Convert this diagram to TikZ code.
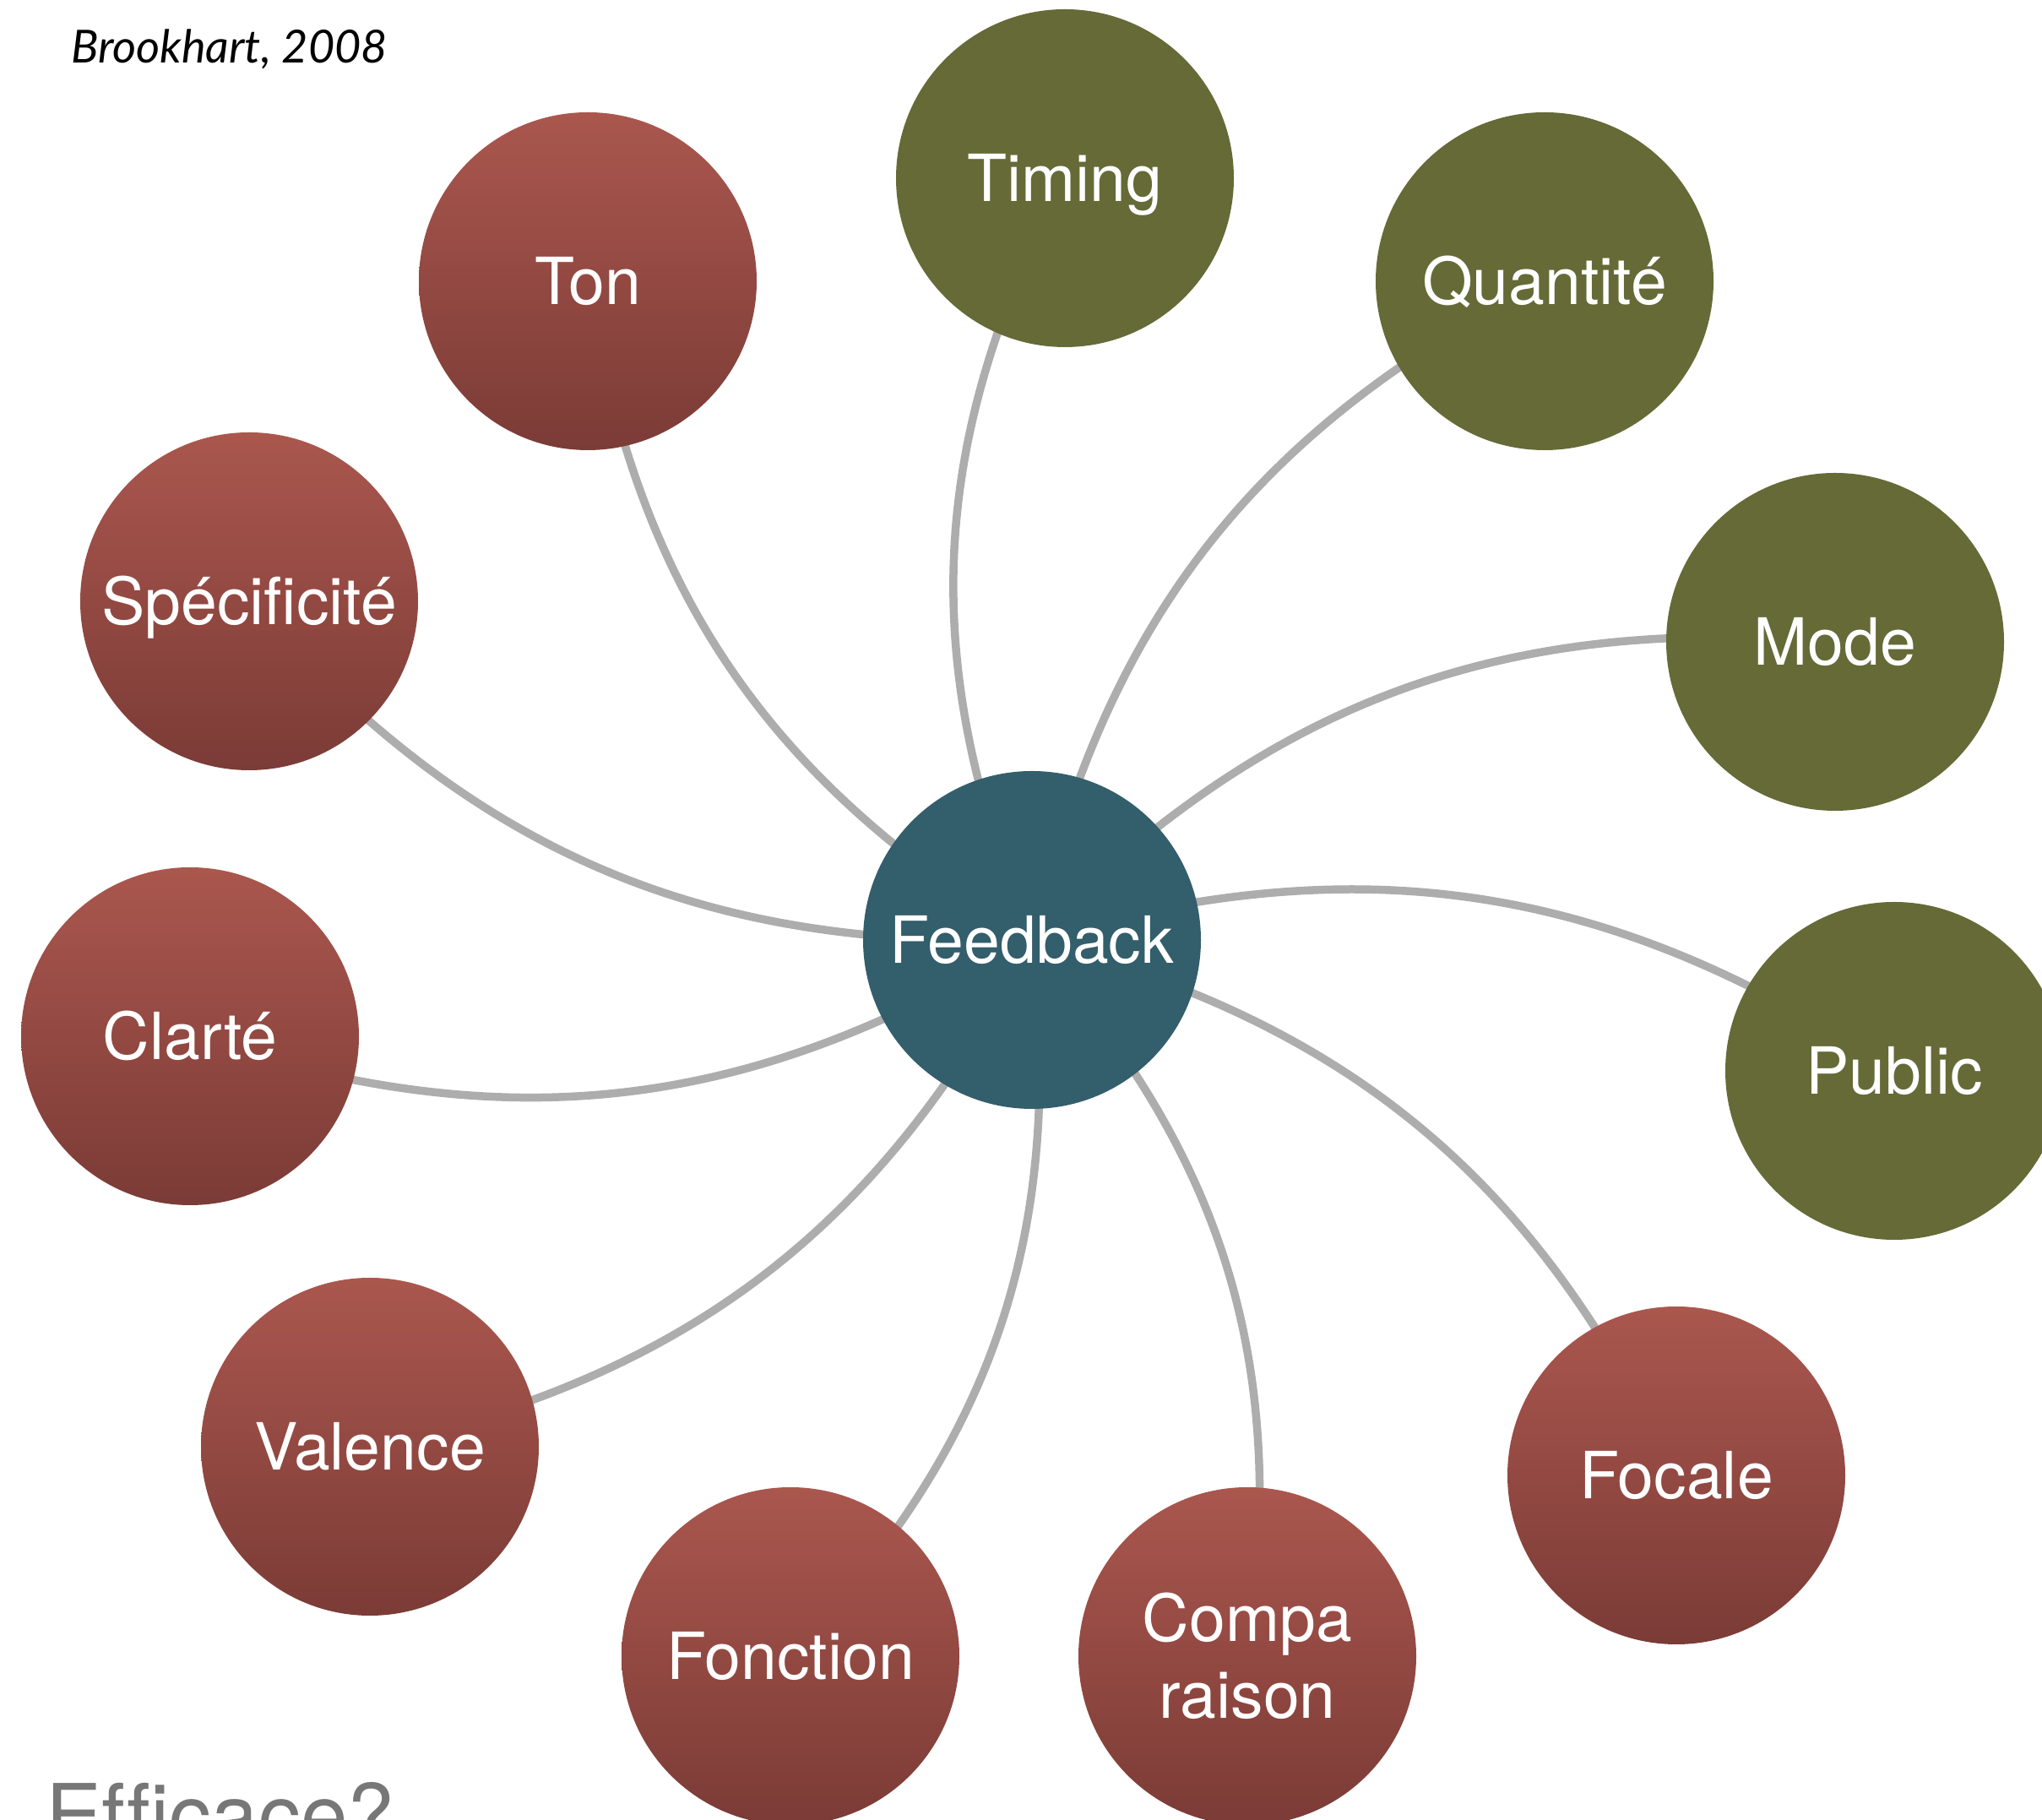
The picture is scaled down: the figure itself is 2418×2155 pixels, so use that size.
\documentclass[tikz,border=0pt]{standalone}
\usepackage{fontspec}
\usetikzlibrary{backgrounds}
\newfontfamily\heros{TeX Gyre Heros}
\newfontfamily\herosnolig[Ligatures=NoCommon]{TeX Gyre Heros}
\newfontfamily\latofont{Lato}
\definecolor{redtop}{HTML}{AA574E}
\definecolor{redbot}{HTML}{7B3B36}
\definecolor{olive}{HTML}{656A37}
\definecolor{petrol}{HTML}{335E6B}
\definecolor{linkgray}{HTML}{ADADAD}
\definecolor{notegray}{HTML}{777777}
\tikzset{
  bubble/.style={circle, minimum size=400pt, inner sep=0pt, outer sep=0pt,
    text=white, font=\heros\fontsize{77}{91}\selectfont,
    text height=55pt, text depth=0pt},
  redbubble/.style={bubble, top color=redtop, bottom color=redbot, draw=none},
  greenbubble/.style={bubble, fill=olive},
  hubbubble/.style={bubble, fill=petrol},
  lbl/.style={inner sep=0pt, text=white, font=\heros\fontsize{77}{91}\selectfont,
    text height=55pt, text depth=0pt},
  link/.style={draw=linkgray, line width=9.5pt, bend left=25},
}
\begin{document}
\begin{tikzpicture}[x=1pt,y=1pt]
\useasboundingbox (0,0) rectangle (2418,2155);
\clip (0,0) rectangle (2418,2155);

% central node
\node[hubbubble] (fb) at (1222,1042) {Feedback};

% olive nodes
\node[greenbubble] (tim) at (1261,1944) {Timing};
\node[greenbubble] (qua) at (1829,1822) {Quantité};
\node[greenbubble] (mod) at (2173,1395) {Mode};
\node[greenbubble] (pub) at (2243,887) {Public};

% red nodes
\node[redbubble] (foc) at (1985,408) {Focale};
\node[redbubble] (cmp) at (1477,194) {};
\node[lbl] (cmpa) at (1477,239) {Compa};
\node[lbl] (cmpb) at (1477,148) {raison};
\node[redbubble] (fon) at (936,194) {Fonction};
\node[redbubble] (val) at (438,442) {Valence};
\node[redbubble] (cla) at (225,928) {Clarté};
\node[redbubble] (spe) at (295,1443) {Spécificité};
\node[redbubble] (ton) at (696,1822) {Ton};

% connectors run from centre to centre, hidden under the bubbles
\begin{pgfonlayer}{background}
  \fill[white] (0,0) rectangle (2418,2155);
  \foreach \t in {tim,qua,mod,pub,foc,cmp,fon,val,cla,spe,ton}
    \draw[link] (fb.center) to (\t.center);
\end{pgfonlayer}

% annotations
\node[anchor=base west, inner sep=0pt, font=\latofont\itshape\fontsize{54}{60}\selectfont]
  (src) at (84,2080) {Brookhart, 2008};
\node[anchor=base west, inner sep=0pt, text=notegray, font=\herosnolig\fontsize{100}{110}\selectfont]
  (q) at (54,-30) {Efficace?};
\end{tikzpicture}
\end{document}
